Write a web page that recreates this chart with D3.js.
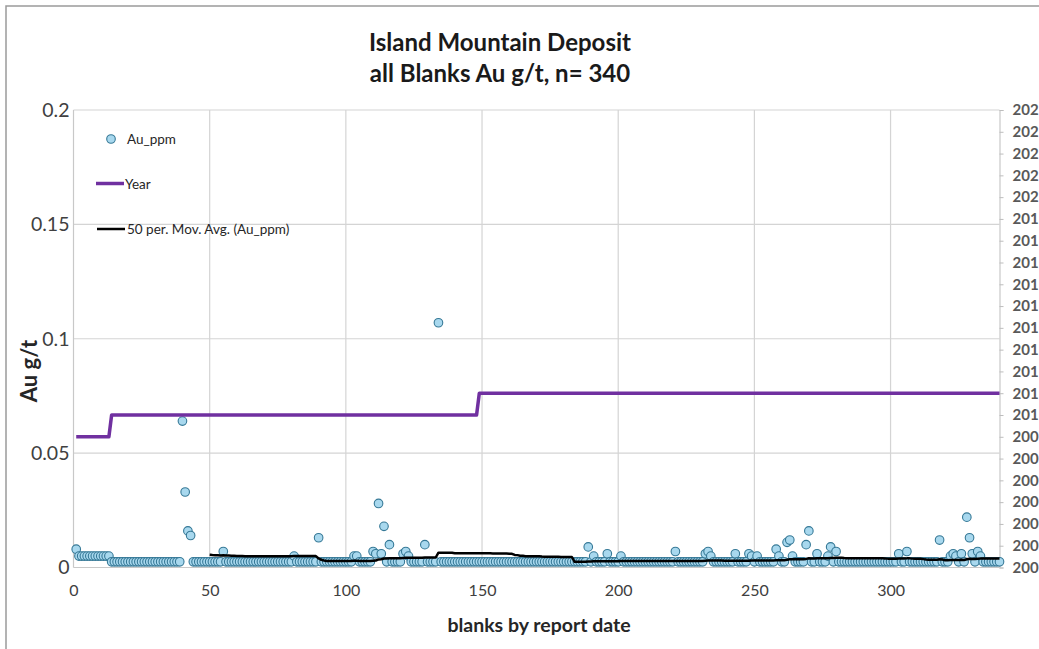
<!DOCTYPE html>
<html>
<head>
<meta charset="utf-8">
<script src="https://cdn.jsdelivr.net/npm/d3@7"></script>
<style>
  html, body { margin: 0; padding: 0; background: #ffffff; overflow: hidden; }
  svg { display: block; font-family: Lato, "Open Sans", sans-serif; }
</style>
</head>
<body>
<svg id="chart" width="1039" height="649"></svg>
<script>
// ---------------- DATA ----------------
const titleLines = ["Island Mountain Deposit", "all Blanks Au g/t, n= 340"];
const xAxisTitle = "blanks by report date";
const yAxisTitle = "Au g/t";
const legendLabels = ["Au_ppm", "Year", "50 per. Mov. Avg. (Au_ppm)"];

const xTicks = [0, 50, 100, 150, 200, 250, 300];
const yTicks = [0, 0.05, 0.1, 0.15, 0.2];
const yTickLabels = ["0", "0.05", "0.1", "0.15", "0.2"];
const yearTicks = [2003, 2004, 2005, 2006, 2007, 2008, 2009, 2010, 2011, 2012, 2013,
                   2014, 2015, 2016, 2017, 2018, 2019, 2020, 2021, 2022, 2023, 2024];
// the year labels as they are visible in the reference (cut to three characters)
const yearTickLabels = ["200", "200", "200", "200", "200", "200", "200", "201", "201", "201", "201",
                        "201", "201", "201", "201", "201", "201", "202", "202", "202", "202", "202"];

// Au_ppm for blanks 1..340
const auPpm = [
  0.008, 0.005, 0.005, 0.005, 0.005, 0.005, 0.005, 0.005, 0.005, 0.005,            // 1-10
  0.005, 0.005, 0.005, 0.0025, 0.0025, 0.0025, 0.0025, 0.0025, 0.0025, 0.0025,     // 11-20
  0.0025, 0.0025, 0.0025, 0.0025, 0.0025, 0.0025, 0.0025, 0.0025, 0.0025, 0.0025,  // 21-30
  0.0025, 0.0025, 0.0025, 0.0025, 0.0025, 0.0025, 0.0025, 0.0025, 0.0025, 0.064,   // 31-40
  0.033, 0.016, 0.014, 0.0025, 0.0025, 0.0025, 0.0025, 0.0025, 0.0025, 0.0025,     // 41-50
  0.0025, 0.0025, 0.0025, 0.0025, 0.007, 0.0025, 0.0025, 0.0025, 0.0025, 0.0025,   // 51-60
  0.0025, 0.0025, 0.0025, 0.0025, 0.0025, 0.0025, 0.0025, 0.0025, 0.0025, 0.0025,  // 61-70
  0.0025, 0.0025, 0.0025, 0.0025, 0.0025, 0.0025, 0.0025, 0.0025, 0.0025, 0.0025,  // 71-80
  0.005, 0.0025, 0.0025, 0.0025, 0.0025, 0.0025, 0.0025, 0.0025, 0.0025, 0.013,    // 81-90
  0.0025, 0.0025, 0.0025, 0.0025, 0.0025, 0.0025, 0.0025, 0.0025, 0.0025, 0.0025,  // 91-100
  0.0025, 0.0025, 0.005, 0.005, 0.0025, 0.0025, 0.0025, 0.0025, 0.0025, 0.007,     // 101-110
  0.006, 0.028, 0.006, 0.018, 0.0025, 0.010, 0.0025, 0.0025, 0.0025, 0.0025,       // 111-120
  0.006, 0.007, 0.005, 0.0025, 0.0025, 0.0025, 0.0025, 0.0025, 0.010, 0.0025,      // 121-130
  0.0025, 0.0025, 0.0025, 0.107, 0.0025, 0.0025, 0.0025, 0.0025, 0.0025, 0.0025,   // 131-140
  0.0025, 0.0025, 0.0025, 0.0025, 0.0025, 0.0025, 0.0025, 0.0025, 0.0025, 0.0025,  // 141-150
  0.0025, 0.0025, 0.0025, 0.0025, 0.0025, 0.0025, 0.0025, 0.0025, 0.0025, 0.0025,  // 151-160
  0.0025, 0.0025, 0.0025, 0.0025, 0.0025, 0.0025, 0.0025, 0.0025, 0.0025, 0.0025,  // 161-170
  0.0025, 0.0025, 0.0025, 0.0025, 0.0025, 0.0025, 0.0025, 0.0025, 0.0025, 0.0025,  // 171-180
  0.0025, 0.0025, 0.0025, 0.0025, 0.0025, 0.0025, 0.0025, 0.0025, 0.009, 0.0025,   // 181-190
  0.005, 0.0025, 0.0025, 0.0025, 0.0025, 0.006, 0.0025, 0.0025, 0.0025, 0.0025,    // 191-200
  0.005, 0.0025, 0.0025, 0.0025, 0.0025, 0.0025, 0.0025, 0.0025, 0.0025, 0.0025,   // 201-210
  0.0025, 0.0025, 0.0025, 0.0025, 0.0025, 0.0025, 0.0025, 0.0025, 0.0025, 0.0025,  // 211-220
  0.007, 0.0025, 0.0025, 0.0025, 0.0025, 0.0025, 0.0025, 0.0025, 0.0025, 0.0025,   // 221-230
  0.0025, 0.006, 0.007, 0.005, 0.0025, 0.0025, 0.0025, 0.0025, 0.0025, 0.0025,     // 231-240
  0.0025, 0.0025, 0.006, 0.0025, 0.0025, 0.0025, 0.0025, 0.006, 0.005, 0.0025,     // 241-250
  0.005, 0.0025, 0.0025, 0.0025, 0.0025, 0.0025, 0.0025, 0.008, 0.005, 0.0025,     // 251-260
  0.0025, 0.011, 0.012, 0.005, 0.0025, 0.0025, 0.0025, 0.0025, 0.010, 0.016,       // 261-270
  0.0025, 0.0025, 0.006, 0.0025, 0.0025, 0.0025, 0.005, 0.009, 0.0025, 0.007,      // 271-280
  0.0025, 0.0025, 0.0025, 0.0025, 0.0025, 0.0025, 0.0025, 0.0025, 0.0025, 0.0025,  // 281-290
  0.0025, 0.0025, 0.0025, 0.0025, 0.0025, 0.0025, 0.0025, 0.0025, 0.0025, 0.0025,  // 291-300
  0.0025, 0.0025, 0.006, 0.0025, 0.0025, 0.007, 0.0025, 0.0025, 0.0025, 0.0025,    // 301-310
  0.0025, 0.0025, 0.0025, 0.0025, 0.0025, 0.0025, 0.0025, 0.012, 0.0025, 0.0025,   // 311-320
  0.0025, 0.005, 0.006, 0.005, 0.0025, 0.006, 0.0025, 0.022, 0.013, 0.006,         // 321-330
  0.0025, 0.007, 0.005, 0.0025, 0.0025, 0.0025, 0.0025, 0.0025, 0.0025, 0.0025     // 331-340
];

// Report year of each blank 1..340 (secondary axis)
const year = [
  2009, 2009, 2009, 2009, 2009, 2009, 2009, 2009, 2009, 2009, 2009, 2009, 2009, 2010, 2010, 2010, 2010, 2010, 2010, 2010, // 1-20
  2010, 2010, 2010, 2010, 2010, 2010, 2010, 2010, 2010, 2010, 2010, 2010, 2010, 2010, 2010, 2010, 2010, 2010, 2010, 2010, // 21-40
  2010, 2010, 2010, 2010, 2010, 2010, 2010, 2010, 2010, 2010, 2010, 2010, 2010, 2010, 2010, 2010, 2010, 2010, 2010, 2010, // 41-60
  2010, 2010, 2010, 2010, 2010, 2010, 2010, 2010, 2010, 2010, 2010, 2010, 2010, 2010, 2010, 2010, 2010, 2010, 2010, 2010, // 61-80
  2010, 2010, 2010, 2010, 2010, 2010, 2010, 2010, 2010, 2010, 2010, 2010, 2010, 2010, 2010, 2010, 2010, 2010, 2010, 2010, // 81-100
  2010, 2010, 2010, 2010, 2010, 2010, 2010, 2010, 2010, 2010, 2010, 2010, 2010, 2010, 2010, 2010, 2010, 2010, 2010, 2010, // 101-120
  2010, 2010, 2010, 2010, 2010, 2010, 2010, 2010, 2010, 2010, 2010, 2010, 2010, 2010, 2010, 2010, 2010, 2010, 2010, 2010, // 121-140
  2010, 2010, 2010, 2010, 2010, 2010, 2010, 2010, 2011, 2011, 2011, 2011, 2011, 2011, 2011, 2011, 2011, 2011, 2011, 2011, // 141-160
  2011, 2011, 2011, 2011, 2011, 2011, 2011, 2011, 2011, 2011, 2011, 2011, 2011, 2011, 2011, 2011, 2011, 2011, 2011, 2011, // 161-180
  2011, 2011, 2011, 2011, 2011, 2011, 2011, 2011, 2011, 2011, 2011, 2011, 2011, 2011, 2011, 2011, 2011, 2011, 2011, 2011, // 181-200
  2011, 2011, 2011, 2011, 2011, 2011, 2011, 2011, 2011, 2011, 2011, 2011, 2011, 2011, 2011, 2011, 2011, 2011, 2011, 2011, // 201-220
  2011, 2011, 2011, 2011, 2011, 2011, 2011, 2011, 2011, 2011, 2011, 2011, 2011, 2011, 2011, 2011, 2011, 2011, 2011, 2011, // 221-240
  2011, 2011, 2011, 2011, 2011, 2011, 2011, 2011, 2011, 2011, 2011, 2011, 2011, 2011, 2011, 2011, 2011, 2011, 2011, 2011, // 241-260
  2011, 2011, 2011, 2011, 2011, 2011, 2011, 2011, 2011, 2011, 2011, 2011, 2011, 2011, 2011, 2011, 2011, 2011, 2011, 2011, // 261-280
  2011, 2011, 2011, 2011, 2011, 2011, 2011, 2011, 2011, 2011, 2011, 2011, 2011, 2011, 2011, 2011, 2011, 2011, 2011, 2011, // 281-300
  2011, 2011, 2011, 2011, 2011, 2011, 2011, 2011, 2011, 2011, 2011, 2011, 2011, 2011, 2011, 2011, 2011, 2011, 2011, 2011, // 301-320
  2011, 2011, 2011, 2011, 2011, 2011, 2011, 2011, 2011, 2011, 2011, 2011, 2011, 2011, 2011, 2011, 2011, 2011, 2011, 2011  // 321-340
];

const maPeriod = 50;

// ---------------- LAYOUT ----------------
const W = 1039, H = 649;
const plot = { left: 73.5, right: 999.5, top: 110, bottom: 567.5 };

const svg = d3.select("#chart");

// outer chart frame
svg.append("rect")
  .attr("x", 6).attr("y", 6).attr("width", W + 20).attr("height", H + 20)
  .attr("fill", "none").attr("stroke", "#9a9a9a").attr("stroke-width", 1.5);

const x = d3.scaleLinear().domain([0, 340]).range([plot.left, plot.right]);
const y = d3.scaleLinear().domain([0, 0.2]).range([plot.bottom, plot.top]);
const y2 = d3.scaleLinear().domain([2003, 2024]).range([plot.bottom, plot.top]);

const pts = auPpm.map((v, i) => ({ n: i + 1, v: v, yr: year[i] }));

// moving average (Excel style trendline: mean of the last 50 points)
const ma = [];
for (let i = maPeriod - 1; i < auPpm.length; i++) {
  ma.push({ n: i + 1, v: d3.mean(auPpm.slice(i - maPeriod + 1, i + 1)) });
}

// gridlines
const grid = svg.append("g");
grid.selectAll("line.gx").data(xTicks.filter(d => d > 0)).join("line")
  .attr("x1", d => x(d)).attr("x2", d => x(d))
  .attr("y1", plot.top).attr("y2", plot.bottom)
  .attr("stroke", "#d4d4d4").attr("stroke-width", 1.2);
grid.selectAll("line.gy").data(yTicks.filter(d => d > 0)).join("line")
  .attr("x1", plot.left).attr("x2", plot.right)
  .attr("y1", d => y(d)).attr("y2", d => y(d))
  .attr("stroke", "#d4d4d4").attr("stroke-width", 1.2);

// plot border (left, bottom, right)
svg.append("line").attr("x1", plot.left).attr("x2", plot.left).attr("y1", plot.top).attr("y2", plot.bottom)
  .attr("stroke", "#c8c8c8").attr("stroke-width", 1.2);
svg.append("line").attr("x1", plot.left).attr("x2", plot.right).attr("y1", plot.bottom).attr("y2", plot.bottom)
  .attr("stroke", "#c8c8c8").attr("stroke-width", 1.2);

// left axis labels
const yAxis = d3.axisLeft(y).tickValues(yTicks).tickSize(0).tickPadding(4)
  .tickFormat((d, i) => yTickLabels[i]);
const gy = svg.append("g").attr("transform", `translate(${plot.left},0)`).call(yAxis);
gy.select(".domain").remove();
gy.selectAll("text").attr("font-size", 19.5).attr("fill", "#404040")
  .attr("font-family", "Lato, sans-serif");

// bottom axis labels
const xAxis = d3.axisBottom(x).tickValues(xTicks).tickSize(0).tickPadding(17)
  .tickFormat(d3.format("d"));
const gx = svg.append("g").attr("transform", `translate(0,${plot.bottom})`).call(xAxis);
gx.select(".domain").remove();
gx.selectAll("text").attr("font-size", 16).attr("fill", "#404040")
  .attr("font-family", "Lato, sans-serif");

// right (year) axis
const y2Axis = d3.axisRight(y2).tickValues(yearTicks).tickSize(4).tickPadding(9)
  .tickFormat((d, i) => yearTickLabels[i]);
const gy2 = svg.append("g").attr("transform", `translate(${plot.right},0)`).call(y2Axis);
gy2.select(".domain").attr("stroke", "#c8c8c8").attr("stroke-width", 1.2);
gy2.selectAll(".tick line").attr("stroke", "#bdbdbd");
gy2.selectAll("text").attr("font-size", 15).attr("font-weight", "bold").attr("fill", "#595959")
  .attr("font-family", "Lato, sans-serif");

// scatter points
svg.append("g").selectAll("circle").data(pts).join("circle")
  .attr("cx", d => x(d.n)).attr("cy", d => y(d.v)).attr("r", 4.3)
  .attr("fill", "#a8d8ee").attr("stroke", "#357896").attr("stroke-width", 1.1);

// year line
svg.append("path").datum(pts)
  .attr("d", d3.line().x(d => x(d.n)).y(d => y2(d.yr)))
  .attr("fill", "none").attr("stroke", "#7030a0").attr("stroke-width", 3.5)
  .attr("stroke-linejoin", "round");

// moving average
svg.append("path").datum(ma)
  .attr("d", d3.line().x(d => x(d.n)).y(d => y(d.v)))
  .attr("fill", "none").attr("stroke", "#000000").attr("stroke-width", 2.5)
  .attr("stroke-linejoin", "round");

// legend
const lg = svg.append("g").attr("font-family", "Lato, sans-serif").attr("font-size", 13.5).attr("fill", "#262626");
lg.append("circle").attr("cx", 111).attr("cy", 139).attr("r", 4.3)
  .attr("fill", "#a8d8ee").attr("stroke", "#357896").attr("stroke-width", 1.1);
lg.append("text").attr("x", 127).attr("y", 143.5).text(legendLabels[0]);
lg.append("line").attr("x1", 96).attr("x2", 124).attr("y1", 183.5).attr("y2", 183.5)
  .attr("stroke", "#7030a0").attr("stroke-width", 3.5);
lg.append("text").attr("x", 125).attr("y", 188.5).text(legendLabels[1]);
lg.append("line").attr("x1", 97).attr("x2", 125).attr("y1", 229).attr("y2", 229)
  .attr("stroke", "#000").attr("stroke-width", 2.5);
lg.append("text").attr("x", 127).attr("y", 233.5).text(legendLabels[2]);

// titles
svg.append("text").attr("x", 500).attr("y", 51).attr("text-anchor", "middle")
  .attr("font-size", 24).attr("font-weight", "bold").attr("fill", "#1a1a1a")
  .text(titleLines[0]);
svg.append("text").attr("x", 500).attr("y", 82).attr("text-anchor", "middle")
  .attr("font-size", 24).attr("font-weight", "bold").attr("fill", "#1a1a1a")
  .text(titleLines[1]);

svg.append("text").attr("x", 539).attr("y", 632)
  .attr("text-anchor", "middle").attr("font-size", 19.5).attr("font-weight", "bold").attr("fill", "#262626")
  .text(xAxisTitle);

svg.append("text").attr("transform", "translate(37,371) rotate(-90)")
  .attr("text-anchor", "middle").attr("font-size", 22).attr("font-weight", "bold").attr("fill", "#262626")
  .text(yAxisTitle);
</script>
</body>
</html>
